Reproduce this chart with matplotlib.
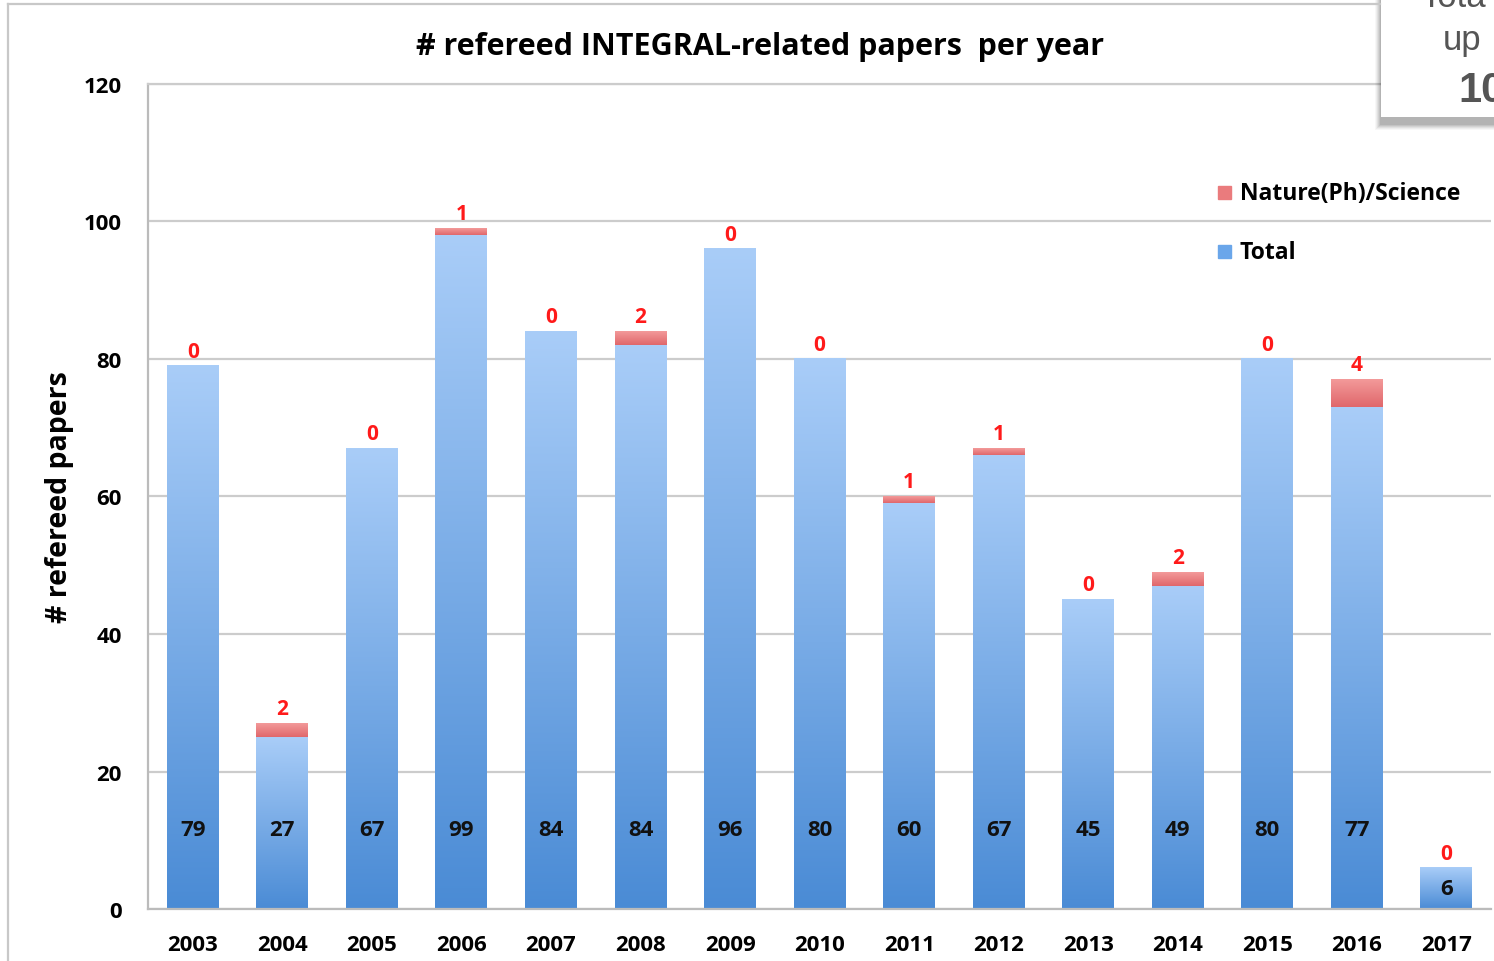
import numpy as np
import matplotlib
matplotlib.use('Agg')
from matplotlib import pyplot as plt
from matplotlib.patches import Rectangle
from matplotlib.colors import LinearSegmentedColormap

#data
years = ['2003', '2004', '2005', '2006', '2007', '2008', '2009', '2010',
         '2011', '2012', '2013', '2014', '2015', '2016', '2017']
total = [79, 27, 67, 99, 84, 84, 96, 80, 60, 67, 45, 49, 80, 77, 6]
nature = [0, 2, 0, 1, 0, 2, 0, 0, 1, 1, 0, 2, 0, 4, 0]
yticks = [0, 20, 40, 60, 80, 100, 120]

plt.rcParams['font.family'] = ['Open Sans', 'DejaVu Sans']

fig = plt.figure(figsize=(14.94, 9.62), dpi=100)
ax = fig.add_axes([0.0991, 0.054, 0.8990, 0.8577])

blue_cm = LinearSegmentedColormap.from_list('b', ['#4a8bd5', '#a9cdf8'])
red_cm = LinearSegmentedColormap.from_list('r', ['#e0676b', '#f39a9a'])
grad = np.linspace(0, 1, 256).reshape(-1, 1)

w = 0.58
x = np.arange(len(years))
for i in range(len(years)):
    base = total[i] - nature[i]
    ax.imshow(grad, cmap=blue_cm, origin='lower', aspect='auto',
              extent=[x[i] - w/2, x[i] + w/2, 0, base], zorder=2)
    if nature[i] > 0:
        ax.imshow(grad, cmap=red_cm, origin='lower', aspect='auto',
                  extent=[x[i] - w/2, x[i] + w/2, base, total[i]], zorder=2)
    # red count above the bar
    ax.annotate(str(nature[i]), (x[i], total[i]), xytext=(0, 3),
                textcoords='offset points', ha='center', va='bottom',
                color='#ff1a1a', fontsize=15, fontweight='bold', zorder=3)
    # total inside bar
    ax.text(x[i], min(11.6, total[i] / 2), str(total[i]), ha='center', va='center',
            fontsize=16, fontweight='bold', color='#111111', zorder=3)

ax.set_xlim(-0.5, len(years) - 0.5)
ax.set_ylim(0, 120)
ax.set_yticks(yticks)
ax.set_xticks(x)
ax.set_xticklabels(years)
ax.yaxis.grid(True, color='#cccccc', lw=1.6, zorder=0)
ax.set_axisbelow(True)
ax.tick_params(length=0, labelsize=16)
ax.tick_params(axis='x', pad=18)
ax.tick_params(axis='y', pad=19)
for lab in ax.get_xticklabels() + ax.get_yticklabels():
    lab.set_fontweight('bold')
ax.spines['right'].set_visible(False)
ax.spines['top'].set_color('#cccccc')
ax.spines['top'].set_linewidth(1.6)
for s in ['left', 'bottom']:
    ax.spines[s].set_color('#bbbbbb')
    ax.spines[s].set_linewidth(1.6)

ax.set_ylabel('# refereed papers', fontsize=20.5, fontweight='bold', labelpad=7)
fig.text(0.509, 0.951, '# refereed INTEGRAL-related papers  per year',
         ha='center', va='center', fontsize=22, fontweight='bold')

# legend
fig.patches.append(Rectangle((1218/1494, 1 - 200/962), 13/1494, 13/962,
                             transform=fig.transFigure, color='#ea7b7d'))
fig.patches.append(Rectangle((1218/1494, 1 - 259/962), 13/1494, 13/962,
                             transform=fig.transFigure, color='#6aa6ea'))
fig.text(1240/1494, 1 - 194/962, 'Nature(Ph)/Science', va='center',
         fontsize=16.5, fontweight='bold')
fig.text(1240/1494, 1 - 253/962, 'Total', va='center',
         fontsize=16.5, fontweight='bold')

# outer frame
fig.add_artist(plt.Line2D([8/1494, 8/1494], [0, 1 - 5/962], color='#c8c8c8',
                          lw=1.6, transform=fig.transFigure))
fig.add_artist(plt.Line2D([8/1494, 1380/1494], [1 - 5/962, 1 - 5/962],
                          color='#c8c8c8', lw=1.6, transform=fig.transFigure))

# cropped note box, top right, with soft shadow
for k, a in enumerate([0.03, 0.04, 0.05, 0.06, 0.07, 0.08]):
    fig.patches.append(Rectangle(((1375 + k) / 1494, 1 - (131 - k) / 962),
                                 130 / 1494, 131 / 962, transform=fig.transFigure,
                                 color='black', alpha=a, lw=0))
fig.patches.append(Rectangle((1381/1494, 1 - 118/962), 120/1494, 120/962,
                             transform=fig.transFigure, color='white', lw=0))
fig.text(1420/1494, 1 - 7/962, 'Tota', fontsize=25, color='#555555',
         family='Liberation Sans', va='baseline')
fig.text(1443/1494, 1 - 50/962, 'up', fontsize=25, color='#555555',
         family='Liberation Sans', va='baseline')
fig.text(1458/1494, 1 - 102/962, '10', fontsize=30, color='#555555',
         family='Liberation Sans', fontweight='bold', va='baseline')

fig.savefig('out.png', dpi=100)
